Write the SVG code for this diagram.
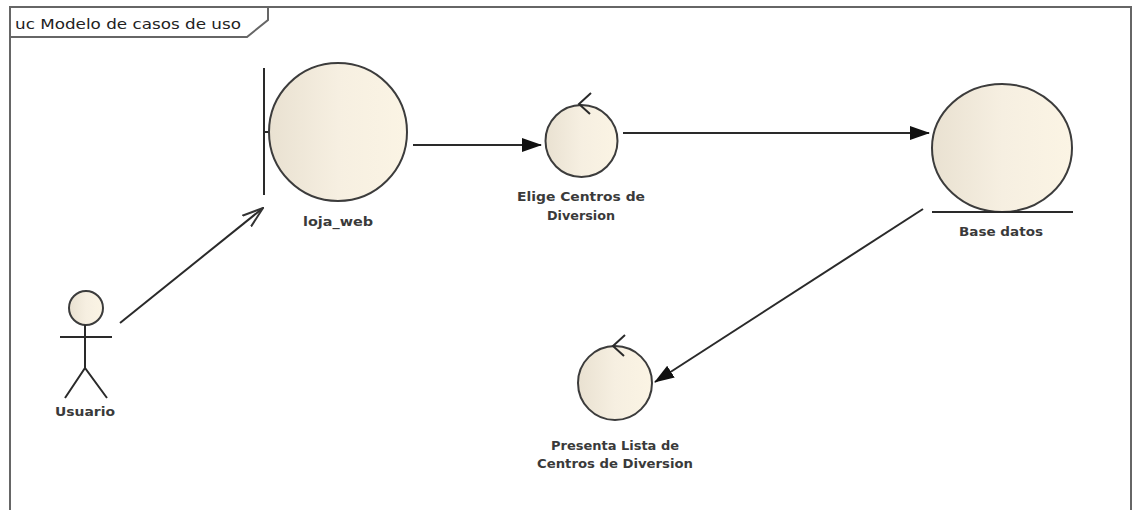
<svg xmlns="http://www.w3.org/2000/svg" width="1136" height="510" viewBox="0 0 1136 510">
<style>
.frame{fill:none;stroke:#666;stroke-width:2}
.node{stroke:#3c3c3c;stroke-width:2;fill:url(#g)}
.ln{stroke:#2a2a2a;stroke-width:2;fill:none}
.lbl{font-family:"DejaVu Sans",sans-serif;font-size:12px;font-weight:bold;fill:#3a3a3a;text-anchor:middle}
.ttl{font-family:"DejaVu Sans",sans-serif;font-size:14px;fill:#222}
</style>
<defs>
<linearGradient id="g" x1="0" y1="0" x2="1" y2="0">
<stop offset="0" stop-color="#e9e1d1"/>
<stop offset="0.5" stop-color="#f6efe1"/>
<stop offset="1" stop-color="#fbf4e4"/>
</linearGradient>
<marker id="fa" markerWidth="20" markerHeight="14" refX="19" refY="7" orient="auto" markerUnits="userSpaceOnUse">
<path d="M0,0 L20,7 L0,14 Z" fill="#111"/>
</marker>
<marker id="oa" markerWidth="22" markerHeight="16" refX="21" refY="8" orient="auto" markerUnits="userSpaceOnUse">
<path d="M0,1 L21,8 L0,15" fill="none" stroke="#333" stroke-width="2"/>
</marker>
</defs>
<rect width="1136" height="510" fill="#fff"/>
<g id="frame">
<path class="frame" d="M10,512 L10,7 L1131,7 L1131,512"/>
<path class="frame" d="M10,37 L247,37 L268,20 L268,7"/>
<text class="ttl" x="15" y="29" textLength="226" lengthAdjust="spacingAndGlyphs">uc Modelo de casos de uso</text>
</g>
<g id="connectors">
<line class="ln" x1="120" y1="323" x2="263" y2="208" marker-end="url(#oa)"/>
<line class="ln" x1="413" y1="145" x2="541" y2="145" marker-end="url(#fa)"/>
<line class="ln" x1="623" y1="133" x2="929" y2="133" marker-end="url(#fa)"/>
<line class="ln" x1="923" y1="209" x2="655" y2="382" marker-end="url(#fa)"/>
</g>
<g id="loja_web">
<line class="ln" x1="264" y1="68" x2="264" y2="195"/>
<line class="ln" x1="264" y1="132" x2="269" y2="132"/>
<circle class="node" cx="338" cy="132" r="69"/>
<text class="lbl" x="338" y="226" textLength="70" lengthAdjust="spacingAndGlyphs">loja_web</text>
</g>
<g id="elige">
<circle class="node" cx="581.5" cy="141" r="36"/>
<path class="ln" d="M591,93 L579,104 L590,114"/>
<text class="lbl" x="581" y="201" textLength="128" lengthAdjust="spacingAndGlyphs">Elige Centros de</text>
<text class="lbl" x="581" y="220" textLength="68" lengthAdjust="spacingAndGlyphs">Diversion</text>
</g>
<g id="base_datos">
<ellipse class="node" cx="1002" cy="148" rx="70" ry="64"/>
<line class="ln" x1="932" y1="212" x2="1073" y2="212"/>
<text class="lbl" x="1001" y="236" textLength="84" lengthAdjust="spacingAndGlyphs">Base datos</text>
</g>
<g id="presenta">
<circle class="node" cx="615" cy="383" r="37"/>
<path class="ln" d="M625,335 L613,346 L624,356"/>
<text class="lbl" x="615" y="450" textLength="128" lengthAdjust="spacingAndGlyphs">Presenta Lista de</text>
<text class="lbl" x="615" y="468" textLength="156" lengthAdjust="spacingAndGlyphs">Centros de Diversion</text>
</g>
<g id="usuario">
<circle class="node" cx="86" cy="308" r="17"/>
<line class="ln" x1="60" y1="337" x2="112" y2="337"/>
<line class="ln" x1="85" y1="325" x2="85" y2="368"/>
<path class="ln" d="M65,398 L85,368 L107,398"/>
<text class="lbl" x="85" y="416" textLength="60" lengthAdjust="spacingAndGlyphs">Usuario</text>
</g>
</svg>
